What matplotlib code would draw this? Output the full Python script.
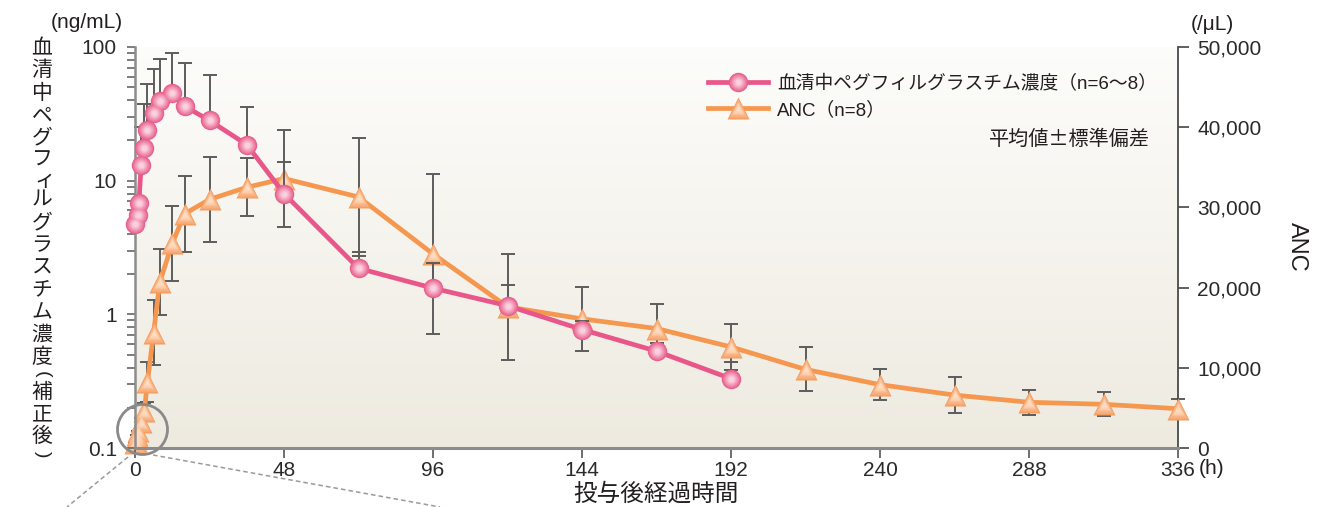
import matplotlib
matplotlib.use("Agg")
import numpy as np
import matplotlib.pyplot as plt
from matplotlib.lines import Line2D
from matplotlib.patches import Ellipse
from matplotlib.colors import to_rgb
from matplotlib.ticker import FixedLocator, FixedFormatter, LogLocator, NullFormatter

plt.rcParams["font.family"] = ["Liberation Sans", "Noto Sans CJK JP"]

# ---- data ----
peg_hours = [0, 1, 1.25, 2, 3, 4, 6, 8, 12, 16, 24, 36, 48, 72, 96, 120, 144, 168, 192]
peg_mean = [4.7, 5.5, 6.8, 13.2, 17.7, 24.0, 32.0, 39.5, 45.5, 36.0, 28.2, 18.6, 8.0,
            2.21, 1.57, 1.16, 0.77, 0.53, 0.33]
peg_sd = [0, 0, 0, 12.0, 20.0, 28.8, 36.3, 41.7, 44.0, 39.4, 33.4, 16.7, 5.8,
          0.73, 0.84, 0.49, 0.12, 0.08, 0.11]

anc_hours = [0, 0.25, 0.5, 0.75, 1, 2, 3, 4, 6, 8, 12, 16, 24, 36, 48, 72, 96, 120,
             144, 168, 192, 216, 240, 264, 288, 312, 336]
anc_mean = [600, 900, 1200, 1600, 2100, 3300, 4600, 8200, 14400, 20700, 25500, 29200,
            31000, 32500, 33600, 31300, 24200, 17600, 16100, 14900, 12600, 9800, 7900,
            6600, 5700, 5450, 4900]
anc_sd = [0, 0, 0, 0, 0, 500, 1000, 2500, 4000, 4150, 4700, 4700, 5300, 3600, 6000,
          7400, 10000, 6600, 4000, 3100, 2900, 2750, 1900, 2200, 1550, 1500, 1150]

x_ticks = [0, 48, 96, 144, 192, 240, 288, 336]
left_ticks = [0.1, 1, 10, 100]
left_labels = ["0.1", "1", "10", "100"]
right_ticks = [0, 10000, 20000, 30000, 40000, 50000]
right_labels = ["0", "10,000", "20,000", "30,000", "40,000", "50,000"]

peg_label = "血清中ペグフィルグラスチム濃度（n=6〜8）"
anc_label = "ANC（n=8）"
left_title = "血清中ペグフィルグラスチム濃度(補正後)"

# ---- figure geometry (pixels) ----
W, H = 1326, 507
fig = plt.figure(figsize=(W / 100, H / 100), dpi=100)


def fx(px):
    return px / W


def fy(py):
    return 1 - py / H


rect = [fx(135), fy(448), fx(1178) - fx(135), fy(47) - fy(448)]

# soft vertical gradient behind the plot
bg = fig.add_axes(rect, zorder=0)
t = np.linspace(0, 1, 256)[:, None, None]
c_top = np.array([0.990, 0.990, 0.982])
c_bot = np.array([0.933, 0.918, 0.878])
bg.imshow(c_top + (c_bot - c_top) * t, aspect="auto", extent=[0, 1, 0, 1],
          interpolation="bilinear")
bg.axis("off")

ax = fig.add_axes(rect, zorder=2)
ax2 = fig.add_axes(rect, zorder=1, sharex=ax)
for a in (ax, ax2):
    a.patch.set_visible(False)

pink = "#e9578a"
orange = "#f6974f"
err_c = "#5c5c5c"


def shade_layers(marker, ms, outer, inner, n=7):
    """Concentric marker styles giving a soft radial shading."""
    o, i = np.array(to_rgb(outer)), np.array(to_rgb(inner))
    styles = []
    for k in range(n):
        f = k / (n - 1)
        styles.append(dict(ls="none", marker=marker, ms=ms * (1 - 0.72 * f),
                           mfc=tuple(o + (i - o) * f), mec="none"))
    return styles


peg_marks = shade_layers("o", 14, "#e8618e", "#fbd0de")
anc_marks = shade_layers("^", 16.5, "#f59a5c", "#fedcc2")

# ---- ANC (right, linear) ----
ax2.errorbar(anc_hours, anc_mean, yerr=anc_sd, fmt="none", ecolor=err_c,
             elinewidth=1.4, capsize=4.7, capthick=1.4, zorder=2, clip_on=False)
ax2.plot(anc_hours, anc_mean, color=orange, lw=3.4, zorder=3, clip_on=False,
         solid_joinstyle="round")
for st in anc_marks:
    ax2.plot(anc_hours, anc_mean, zorder=4, clip_on=False, **st)

# ---- serum concentration (left, log) ----
ax.errorbar(peg_hours, peg_mean, yerr=[np.zeros(len(peg_sd)), peg_sd], fmt="none",
            ecolor=err_c, elinewidth=1.4, capsize=4.7, capthick=1.4, zorder=2,
            clip_on=False)
ax.plot(peg_hours, peg_mean, color=pink, lw=3.4, zorder=3, clip_on=False,
        solid_joinstyle="round")
for st in peg_marks:
    ax.plot(peg_hours, peg_mean, zorder=4, clip_on=False, **st)

# ---- axes styling ----
ax.set_xlim(0, 336)
ax.set_yscale("log")
ax.set_ylim(0.1, 100)
ax.xaxis.set_major_locator(FixedLocator(x_ticks))
ax.yaxis.set_major_locator(FixedLocator(left_ticks))
ax.yaxis.set_major_formatter(FixedFormatter(left_labels))
ax.yaxis.set_minor_locator(LogLocator(base=10, subs=np.arange(2, 10)))
ax.yaxis.set_minor_formatter(NullFormatter())
ax.tick_params(axis="x", direction="out", length=7, width=1.2, color="#555555",
               labelsize=15, labelcolor="#2a2a2a", pad=2)
ax.tick_params(axis="y", which="both", direction="out", length=6, width=1.2,
               color="#666666", labelsize=15, labelcolor="#2a2a2a", pad=7)
for s in ("top", "right"):
    ax.spines[s].set_visible(False)
ax.spines["left"].set_color("#8c8c8c")
ax.spines["left"].set_linewidth(1.8)
ax.spines["bottom"].set_color("#8c8c8c")
ax.spines["bottom"].set_linewidth(2.2)

ax2.set_ylim(0, 50000)
ax2.yaxis.tick_right()
ax2.yaxis.set_major_locator(FixedLocator(right_ticks))
ax2.yaxis.set_major_formatter(FixedFormatter(right_labels))
ax2.xaxis.set_visible(False)
ax2.tick_params(axis="y", direction="out", length=8, width=1.2, color="#444444",
                labelsize=15, labelcolor="#2a2a2a", pad=6)
for s in ("top", "left", "bottom"):
    ax2.spines[s].set_visible(False)
ax2.spines["right"].set_color("#4a4a4a")
ax2.spines["right"].set_linewidth(1.3)

# ---- legend ----
peg_handle = tuple([Line2D([], [], color=pink, lw=3.4)] +
                   [Line2D([], [], **st) for st in peg_marks])
anc_handle = tuple([Line2D([], [], color=orange, lw=3.4)] +
                   [Line2D([], [], **st) for st in anc_marks])
fig.legend([peg_handle, anc_handle], [peg_label, anc_label], loc="upper left",
           bbox_to_anchor=(fx(708), fy(75)), frameon=False, fontsize=13.5,
           handlelength=3.2, handletextpad=0.5, labelspacing=0.42, borderpad=0,
           borderaxespad=0, labelcolor="#231f20")

fig.text(fx(1150), fy(139), "平均値±標準偏差", fontsize=14.5, ha="right", va="center",
         family=["Noto Sans CJK JP"], color="#231f20")

# ---- axis titles and units ----
fig.text(fx(87), fy(22), "(ng/mL)", fontsize=15, ha="center", va="center", color="#231f20")
fig.text(fx(1212), fy(24), "(/μL)", fontsize=15, ha="center", va="center", color="#231f20")
fig.text(fx(1199), fy(469), "(h)", fontsize=15, ha="left", va="center", color="#231f20")
fig.text(fx(656), fy(494), "投与後経過時間", fontsize=17, ha="center", va="center",
         family=["Noto Sans CJK JP"], color="#231f20")
fig.text(fx(1297), fy(247), "ANC", fontsize=17, rotation=-90, ha="center", va="center",
         color="#231f20")

# vertical (top-to-bottom) left title, one character per cell;
# brackets are turned a quarter turn as in vertical typesetting
small_kana = {"ィ"}
brackets = {"(", ")"}


def cell(ch):
    if ch in brackets:
        return 12.4
    if ch in small_kana:
        return 17.6
    return 22.4


ypos = 48.0
prev = None
for ch in left_title:
    if prev is not None:
        ypos += (cell(prev) + cell(ch)) / 2
    dx = 3 if ch in small_kana else 0
    if ch in brackets:
        fig.text(fx(42), fy(ypos), ch, fontsize=14, ha="center", va="center",
                 rotation=-90, family=["Liberation Sans"], color="#231f20")
    else:
        fig.text(fx(42 + dx), fy(ypos), ch, fontsize=15, ha="center", va="center",
                 family=["Noto Sans CJK JP"], color="#231f20")
    prev = ch

# magnifier ring around the early time points with leader lines
fig.add_artist(Ellipse((fx(142.5), fy(429.5)), width=50 / W, height=50 / H,
                       transform=fig.transFigure, fill=False, edgecolor="#8a8a8a",
                       lw=2, zorder=10))
fig.add_artist(Line2D([fx(128), fx(67)], [fy(457), fy(507)], transform=fig.transFigure,
                      color="#9a9a9a", lw=1.1, ls=(0, (3, 2)), zorder=10))
fig.add_artist(Line2D([fx(153), fx(440)], [fy(455), fy(507)], transform=fig.transFigure,
                      color="#9a9a9a", lw=1.1, ls=(0, (3, 2)), zorder=10))

fig.savefig("out.png", dpi=100)
